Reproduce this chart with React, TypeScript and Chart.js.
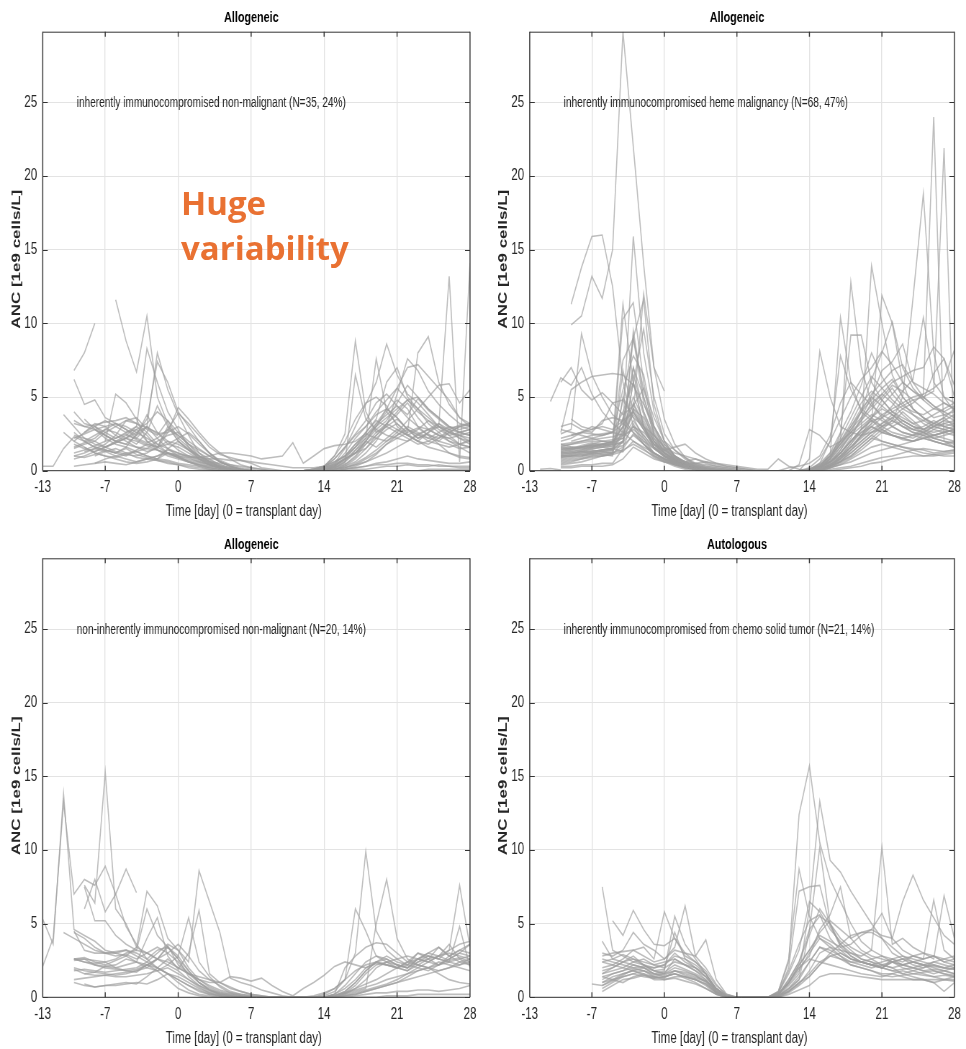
import React, { useEffect, useRef } from 'react';
import { Chart, registerables } from 'chart.js';

Chart.register(...registerables);

// ---------- axes ----------
const DAY_MIN = -13;
const DAY_MAX = 28;
const ANC_MAX = 29.8;
const X_TICKS = [-13, -7, 0, 7, 14, 21, 28];
const Y_TICKS = [0, 5, 10, 15, 20, 25];
const X_TITLE = 'Time [day] (0 = transplant day)';
const Y_TITLE = 'ANC [1e9 cells/L]';

// each series: [first day, daily ANC values from that day on]
type Series = [number, number[]];

const ALLO_INHERENT_NONMAL: Series[] = [
  [-13, [0.3, 0.3, 1.5, 2.3, 2.0, 1.6, 1.4, 1.2, 1.5, 1.1, 0.9, 0.7, 0.5, 0.4, 0.2, 0.1, 0.05, 0, 0, 0, 0, 0, 0, 0, 0, 0, 0.1, 0.2, 0.4, 0.8, 1.2, 1.5, 2.2, 2.8, 3.2, 2.6, 2.9, 2.4, 2.2, 2.8, 3.1, 3.2]],
  [-10, [6.8, 8.0, 10.0]],
  [-10, [6.2, 4.5, 4.8, 3.6, 3.2, 2.8, 2.4, 3.0, 2.2, 1.5, 1.0, 0.6, 0.3, 0.1, 0, 0, 0, 0, 0, 0, 0, 0, 0, 0.1, 0.3, 0.8, 1.6, 2.5, 3.4, 4.6, 5.2, 4.4, 3.8, 4.9, 4.1, 3.5, 2.9, 3.0, 3.1]],
  [-6, [11.6, 8.8, 6.7, 10.5, 5.0, 3.2, 2.0, 1.4, 0.8, 0.4, 0.2, 0.1, 0, 0, 0, 0, 0, 0, 0, 0.1, 0.2, 0.5, 1.0, 1.8, 2.4, 3.0, 4.2, 3.6, 2.8, 2.2, 2.6, 3.0, 2.4, 1.8, 2.1]],
  [-10, [1.8, 1.5, 1.3, 1.6, 2.0, 2.4, 2.2, 3.0, 8.0, 5.5, 3.8, 2.4, 1.2, 0.6, 0.3, 0.1, 0, 0, 0, 0, 0, 0, 0, 0, 0.2, 0.5, 1.5, 3.0, 4.5, 6.0, 8.6, 6.5, 5.2, 4.6, 3.8, 3.0, 2.6, 2.4, 2.2]],
  [-10, [3.2, 3.0, 3.1, 3.3, 3.4, 3.6, 3.2, 2.9, 2.6, 2.0, 1.4, 1.0, 0.7, 0.4, 0.2, 0.1, 0, 0, 0, 0, 0, 0, 0, 0.1, 0.3, 1.0, 2.5, 8.8, 4.0, 2.6, 3.0, 3.5, 2.8, 2.2, 2.5, 2.0, 1.8, 1.5, 1.6]],
  [-11, [3.8, 3.0, 2.2, 1.8, 1.6, 1.9, 2.2, 2.6, 3.0, 2.5, 2.6, 4.3, 3.5, 2.6, 1.8, 1.2, 0.8, 0.4, 0.2, 0.1, 0, 0, 0, 0, 0, 0.1, 0.3, 0.8, 1.2, 2.0, 2.8, 3.4, 4.6, 5.8, 5.0, 4.2, 3.6, 3.0, 2.8, 3.0]],
  [-10, [2.6, 2.0, 1.6, 1.4, 1.2, 1.6, 2.5, 3.5, 7.4, 6.0, 4.0, 3.0, 2.0, 1.2, 0.6, 0.3, 0.1, 0, 0, 0, 0, 0, 0, 0, 0.1, 0.3, 0.7, 1.4, 2.2, 7.6, 4.0, 3.2, 2.5, 2.0, 1.8, 2.2, 2.6, 2.4, 2.0]],
  [-10, [1.2, 1.4, 1.7, 2.0, 2.2, 2.5, 2.1, 1.8, 1.6, 2.8, 3.9, 3.2, 2.4, 1.6, 1.1, 0.9, 0.7, 0.5, 0.2, 0.1, 0, 0, 0, 0, 0.1, 0.2, 0.6, 1.2, 1.8, 2.4, 3.0, 5.2, 7.6, 6.8, 5.4, 4.5, 3.8, 3.2, 3.0]],
  [-9, [1.6, 1.2, 1.0, 0.9, 1.1, 1.3, 1.0, 0.8, 1.2, 1.0, 0.8, 0.6, 0.4, 0.2, 0.1, 0, 0, 0, 0, 0, 0, 0, 0, 0, 0.1, 0.2, 0.4, 0.8, 1.2, 1.8, 2.2, 2.6, 8.0, 9.1, 6.0, 4.5, 3.6, 3.2]],
  [-8, [1.0, 1.3, 1.5, 1.2, 0.9, 0.8, 1.0, 1.4, 1.2, 0.9, 0.6, 0.4, 0.2, 0.1, 0, 0, 0, 0, 0, 0, 0, 0, 0, 0.1, 0.2, 0.4, 0.6, 0.9, 1.2, 1.6, 2.0, 2.4, 2.8, 3.0, 13.2, 0.6, 14.1]],
  [-10, [2.2, 2.5, 2.8, 3.0, 3.2, 3.0, 2.6, 2.2, 1.8, 1.5, 1.2, 1.0, 0.8, 0.6, 0.5, 0.4, 0.3, 0.2, 0.1, 0, 0, 0, 0, 0, 0, 0.2, 0.5, 6.5, 3.5, 2.8, 2.4, 2.2, 2.0, 2.5, 2.8, 2.4, 2.0, 1.6, 1.2]],
  [-8, [2.8, 2.4, 2.0, 1.8, 1.6, 1.5, 1.4, 1.2, 1.0, 0.9, 0.9, 1.0, 1.2, 1.2, 1.1, 1.0, 0.8, 0.9, 1.0, 1.9, 0.5, 1.0, 1.5, 1.7, 1.8, 2.0, 2.5, 2.2, 2.0, 2.4, 2.8, 2.5, 2.0, 1.8, 1.6, 1.8, 2.0]],
  [-10, [1.0, 1.2, 1.5, 1.3, 1.0, 0.8, 0.6, 0.8, 1.0, 1.2, 0.9, 0.6, 0.4, 0.3, 0.2, 0.1, 0, 0, 0, 0, 0, 0, 0, 0, 0, 0, 0.1, 0.2, 0.3, 0.5, 0.6, 0.8, 1.0, 0.8, 0.7, 0.6, 0.5, 0.5, 0.6]],
  [-10, [2.0, 2.6, 3.2, 3.0, 2.4, 2.0, 1.6, 1.3, 1.5, 2.6, 3.0, 2.5, 1.8, 1.2, 0.7, 0.4, 0.2, 0.1, 0, 0, 0, 0, 0, 0, 0.2, 0.8, 1.6, 2.4, 3.0, 4.0, 4.8, 5.6, 7.0, 7.2, 6.4, 5.6, 4.8, 3.6, 3.0]],
  [-9, [3.5, 2.8, 2.2, 1.8, 1.6, 1.3, 1.5, 2.0, 2.4, 2.6, 2.0, 1.5, 1.0, 0.6, 0.3, 0.1, 0, 0, 0, 0, 0, 0, 0, 0, 0.1, 0.3, 0.8, 1.5, 2.4, 3.2, 2.8, 2.4, 2.0, 2.6, 3.2, 2.8, 2.2, 1.8]],
  [-7, [2.0, 5.2, 4.6, 3.5, 2.0, 1.4, 1.0, 0.8, 0.6, 0.4, 0.2, 0.1, 0, 0, 0, 0, 0, 0, 0, 0, 0.1, 0.3, 0.6, 1.0, 1.6, 2.2, 3.0, 3.6, 4.2, 4.8, 5.0, 4.2, 3.6, 3.0, 2.6, 2.4]],
  [-9, [1.3, 1.5, 1.8, 2.4, 3.4, 3.2, 2.6, 1.8, 1.2, 0.9, 0.6, 0.4, 0.2, 0.1, 0, 0, 0, 0, 0, 0, 0, 0, 0, 0, 0, 0, 0.1, 0.1, 0.2, 0.3, 0.3, 0.4, 0.3, 0.3, 0.4, 0.3, 0.3, 0.3]],
  [-10, [1.5, 1.8, 2.0, 2.6, 3.0, 3.4, 3.6, 2.8, 2.4, 3.4, 2.2, 1.6, 1.0, 0.6, 0.3, 0.2, 0.1, 0, 0, 0, 0, 0, 0, 0.1, 0.2, 0.4, 0.8, 1.2, 2.0, 3.0, 4.0, 4.8, 4.2, 3.0, 2.4, 1.8, 1.2, 0.9, 0.8]],
  [-5, [2.4, 3.0, 8.3, 6.0, 4.0, 2.8, 1.6, 0.8, 0.4, 0.2, 0.1, 0, 0, 0, 0, 0, 0, 0, 0, 0, 0.1, 0.2, 0.5, 0.9, 1.4, 2.0, 2.6, 3.4, 4.2, 5.0, 5.8, 5.9, 4.6, 5.5]],
  [-11, [2.6, 2.0, 1.6, 1.2, 1.0, 0.8, 0.6, 0.5, 0.6, 0.8, 0.7, 0.5, 0.4, 0.3, 0.2, 0.1, 0, 0, 0, 0, 0, 0, 0, 0, 0, 0, 0, 0.1, 0.2, 0.3, 0.4, 0.4, 0.5, 0.5, 0.4, 0.4, 0.3, 0.3, 0.2, 0.2]],
  [-8, [0.5, 0.8, 1.0, 1.2, 1.3, 1.0, 0.8, 1.5, 2.0, 1.5, 1.0, 0.6, 0.3, 0.1, 0, 0, 0, 0, 0, 0, 0, 0, 0, 0.1, 0.4, 1.0, 2.0, 3.2, 4.2, 5.6, 4.8, 4.0, 3.4, 2.8, 2.4, 2.6, 2.8]],
  [-10, [2.4, 2.2, 2.0, 1.6, 1.3, 1.1, 1.0, 1.2, 1.6, 2.0, 1.8, 1.4, 1.0, 0.7, 0.4, 0.2, 0.1, 0, 0, 0, 0, 0, 0, 0, 0, 0, 0.1, 0.3, 0.6, 1.1, 1.8, 2.4, 3.0, 2.6, 2.2, 2.0, 2.6, 3.0, 2.8]],
  [-10, [1.0, 0.9, 1.1, 1.4, 1.2, 1.0, 1.4, 1.8, 1.6, 1.2, 1.1, 1.0, 0.9, 0.8, 0.8, 0.7, 0.7, 0.6, 0.5, 0.4, 0.3, 0.2, 0.2, 0.2, 0.3, 0.6, 1.0, 1.8, 2.6, 3.5, 6.0, 7.0, 5.0, 4.2, 3.2, 2.6, 2.0, 1.8, 1.6]],
  [-10, [0.3, 0.4, 0.5, 0.6, 0.5, 0.4, 0.6, 0.8, 0.7, 0.6, 0.4, 0.3, 0.2, 0.1, 0, 0, 0, 0, 0, 0, 0, 0, 0, 0, 0, 0, 0, 0, 0, 0, 0, 0, 0, 0, 0.1, 0.1, 0.1, 0.1, 0.1]],
  [-10, [4.0, 3.2, 3.0, 2.6, 2.2, 2.6, 3.0, 2.4, 1.6, 3.0, 2.4, 1.8, 1.4, 1.0, 0.6, 0.3, 0.1, 0, 0, 0, 0, 0, 0, 0, 0.3, 1.0, 2.0, 3.5, 4.6, 5.0, 4.4, 3.0, 2.4, 2.8, 3.4, 3.0, 2.6, 3.0, 3.2]],
  [-9, [2.0, 2.4, 2.8, 2.6, 2.2, 1.8, 2.6, 4.4, 3.0, 2.0, 1.4, 0.9, 0.5, 0.3, 0.1, 0, 0, 0, 0, 0, 0, 0, 0, 0.1, 0.2, 0.4, 0.9, 1.8, 2.6, 3.2, 3.8, 4.6, 3.6, 2.8, 2.4, 2.2, 2.4, 2.6]],
  [-10, [3.4, 3.0, 2.8, 2.4, 2.0, 2.2, 2.8, 2.0, 1.6, 1.8, 2.2, 2.6, 2.0, 1.2, 0.6, 0.3, 0.1, 0, 0, 0, 0, 0, 0, 0, 0, 0.3, 0.9, 1.6, 2.4, 3.2, 3.8, 4.4, 3.6, 3.0, 2.8, 3.2, 2.6, 2.2, 2.0]],
  [-10, [1.6, 1.9, 2.2, 2.8, 3.2, 2.8, 2.2, 1.9, 2.2, 2.8, 2.4, 1.8, 1.2, 0.8, 0.4, 0.2, 0.1, 0, 0, 0, 0, 0, 0, 0, 0.1, 0.4, 1.2, 2.2, 3.0, 3.8, 4.2, 3.6, 2.8, 2.4, 2.2, 2.6, 3.0, 2.6, 2.4]],
  [-9, [2.6, 3.0, 2.4, 2.0, 1.8, 2.4, 3.8, 2.6, 1.8, 1.6, 1.2, 0.8, 0.5, 0.3, 0.1, 0, 0, 0, 0, 0, 0, 0, 0, 0, 0.2, 0.6, 1.4, 2.0, 1.6, 2.2, 2.8, 2.4, 2.0, 1.6, 1.4, 1.2, 1.0, 0.9]],
  [-10, [0.8, 1.0, 1.3, 1.6, 1.9, 2.2, 2.0, 1.7, 1.4, 1.1, 0.9, 0.7, 0.5, 0.3, 0.2, 0.1, 0, 0, 0, 0, 0, 0, 0, 0, 0, 0.1, 0.3, 0.6, 1.2, 2.0, 3.2, 4.0, 4.8, 4.2, 3.6, 3.0, 2.8, 2.6, 2.8]],
  [-8, [3.0, 3.4, 3.0, 2.6, 2.8, 3.2, 4.0, 3.4, 2.6, 1.8, 1.0, 0.5, 0.2, 0.1, 0, 0, 0, 0, 0, 0, 0, 0, 0.1, 0.3, 0.8, 1.6, 2.6, 3.4, 3.0, 2.6, 2.2, 1.8, 2.0, 2.4, 2.2, 1.8, 1.6]],
];

const ALLO_HEME: Series[] = [
  [-12, [0.1, 0.15, 0.05]],
  [-11, [4.7, 6.3, 5.8, 7.0, 5.2, 4.0, 3.2, 2.6, 2.0, 1.6, 1.2, 0.8, 0.5, 0.3, 0.1, 0, 0, 0, 0, 0, 0, 0, 0, 0, 0, 0.1, 0.4, 1.0, 1.8, 2.6, 3.4, 4.2, 5.0, 5.8, 5.4, 4.8, 4.2, 3.6, 3.8, 4.0]],
  [-9, [11.3, 13.8, 15.9, 16.0, 12.5, 6.0, 3.0, 1.8, 1.0, 0.6, 0.3, 0.1, 0, 0, 0, 0, 0, 0, 0, 0, 0, 0, 0, 0.1, 0.5, 1.2, 2.0, 3.0, 4.2, 5.0, 4.4, 3.8, 3.2, 2.8, 3.0, 3.4, 3.0, 2.8]],
  [-9, [9.9, 10.5, 13.2, 11.7, 15.0, 29.8, 22.0, 14.0, 7.0, 3.5, 1.8, 0.9, 0.4, 0.2, 0.1, 0, 0, 0, 0, 0, 0, 0, 0, 0.2, 0.8, 2.0, 3.5, 5.0, 6.2, 7.0, 8.1, 7.2, 6.0, 5.4, 5.0, 4.4, 4.0, 3.6]],
  [-10, [2.5, 2.8, 9.3, 6.5, 5.0, 3.8, 3.2, 2.6, 2.0, 1.5, 1.0, 0.6, 0.3, 0.1, 0, 0, 0, 0, 0, 0, 0, 0, 0, 0, 0.1, 0.3, 0.8, 1.6, 2.4, 3.0, 3.6, 4.2, 3.8, 3.2, 2.8, 2.6, 2.4, 2.6, 2.8]],
  [-10, [2.6, 5.5, 6.0, 6.4, 6.5, 6.6, 6.5, 5.8, 4.5, 3.0, 1.8, 1.0, 0.5, 0.2, 0.1, 0, 0, 0, 0, 0, 0, 0, 0, 0, 0.1, 0.3, 0.6, 1.0, 1.6, 2.2, 2.8, 3.2, 3.6, 3.0, 2.6, 2.4, 2.2, 2.4, 2.6]],
  [-10, [6.0, 7.0, 5.5, 4.8, 5.3, 4.6, 4.8, 3.6, 3.0, 2.4, 1.6, 0.9, 0.5, 0.2, 0.1, 0, 0, 0, 0, 0, 0, 0, 0, 0, 0, 0.2, 0.6, 1.2, 2.0, 2.8, 3.4, 2.8, 2.4, 2.2, 2.0, 2.4, 2.8, 3.2, 3.0]],
  [-10, [1.2, 1.3, 1.4, 1.5, 1.6, 1.8, 3.0, 15.9, 8.0, 4.0, 2.0, 1.0, 0.5, 0.2, 0.1, 0, 0, 0, 0, 0, 0, 0, 0, 0, 0.1, 0.3, 0.9, 1.8, 2.8, 3.6, 4.4, 5.2, 4.6, 3.8, 3.2, 2.8, 2.6, 2.8, 3.0]],
  [-10, [1.0, 1.1, 1.3, 1.5, 1.6, 1.7, 2.0, 4.0, 12.0, 7.0, 5.4]],
  [-10, [1.4, 1.5, 1.6, 1.8, 1.7, 1.9, 11.3, 6.0, 3.0, 1.8, 1.0, 0.5, 0.3, 0.1, 0, 0, 0, 0, 0, 0, 0, 0, 0, 0, 0, 0.2, 0.8, 2.5, 9.2, 9.2, 6.0, 4.8, 4.0, 3.4, 3.0, 2.8, 3.0, 3.4, 3.8]],
  [-10, [1.6, 1.5, 1.7, 1.9, 1.8, 1.6, 10.3, 11.4, 6.0, 2.5, 1.2, 0.6, 0.3, 0.1, 0, 0, 0, 0, 0, 0, 0, 0, 0, 0, 0, 0.3, 1.0, 10.4, 6.0, 4.0, 3.4, 3.0, 2.6, 2.4, 2.2, 2.6, 3.0, 2.8, 2.6]],
  [-8, [1.0, 1.2, 1.4, 1.5, 1.3, 9.5, 5.0, 2.4, 1.3, 0.7, 0.3, 0.1, 0, 0, 0, 0, 0, 0, 0, 0, 0, 0, 0, 0.1, 0.4, 1.0, 1.8, 2.8, 13.9, 10.0, 6.5, 5.0, 4.2, 3.6, 3.2, 3.0, 3.2]],
  [-10, [1.3, 1.4, 1.6, 1.8, 2.0, 1.9, 7.5, 9.0, 11.6, 4.5, 2.0, 1.0, 0.5, 0.2, 0.1, 0, 0, 0, 0, 0, 0, 0, 0, 0, 0, 0.2, 0.8, 2.0, 12.8, 7.0, 4.6, 3.6, 3.0, 2.6, 2.4, 2.2, 2.4, 2.6, 2.8]],
  [-10, [1.0, 1.0, 1.1, 1.2, 1.3, 1.2, 6.8, 4.0, 2.8, 1.6, 1.0, 0.5, 0.3, 0.1, 0, 0, 0, 0, 0, 0, 0, 0, 0, 0, 0, 0, 0.3, 0.8, 1.6, 2.4, 3.2, 11.9, 10.0, 6.0, 4.2, 3.6, 3.0, 2.8, 2.6]],
  [-10, [0.8, 0.9, 1.0, 1.1, 1.2, 1.3, 4.8, 9.0, 5.5, 3.0, 1.8, 1.0, 0.6, 0.3, 0.1, 0, 0, 0, 0, 0, 0, 0, 0, 0, 0, 0.1, 0.3, 0.6, 1.0, 1.6, 2.2, 2.8, 3.4, 5.0, 11.7, 18.8, 8.0, 5.0, 4.0]],
  [-10, [1.5, 1.5, 1.6, 1.7, 1.8, 1.8, 3.5, 6.5, 4.0, 2.2, 1.2, 0.7, 0.3, 0.1, 0, 0, 0, 0, 0, 0, 0, 0, 0, 0, 0, 0.1, 0.4, 1.0, 1.8, 2.6, 3.2, 3.8, 4.2, 4.6, 5.0, 5.2, 24.0, 2.0, 1.6]],
  [-10, [1.1, 1.2, 1.3, 1.4, 1.3, 1.4, 2.8, 5.0, 3.4, 2.0, 1.1, 0.6, 0.3, 0.1, 0, 0, 0, 0, 0, 0, 0, 0, 0, 0, 0, 0.1, 0.5, 1.2, 2.0, 2.8, 3.4, 3.6, 4.0, 4.4, 4.8, 5.0, 5.4, 21.9, 1.0]],
  [-10, [0.5, 0.6, 0.8, 1.0, 1.1, 1.0, 5.0, 3.6, 2.2, 1.2, 0.8, 0.4, 0.2, 0.1, 0, 0, 0, 0, 0, 0, 0, 0, 0, 0, 0.8, 8.1, 5.0, 3.0, 2.6, 2.4, 2.6, 2.8, 2.4, 2.2, 2.0, 2.2, 2.0, 1.8, 1.6]],
  [-10, [0.3, 0.3, 0.4, 0.4, 0.5, 0.5, 1.5, 2.5, 1.8, 1.2, 0.8, 0.6, 0.4, 0.3, 0.2, 0.1, 0.1, 0, 0, 0, 0, 0, 0, 0.4, 2.8, 2.4, 1.6, 2.0, 2.6, 3.2, 3.8, 3.4, 3.0, 2.6, 2.4, 2.8, 3.2, 3.0, 2.8]],
  [-9, [2.0, 2.2, 2.4, 2.5, 2.6, 4.0, 6.0, 3.8, 2.0, 1.2, 0.7, 0.3, 0.1, 0, 0, 0, 0, 0, 0, 0, 0, 0, 0, 0, 0.2, 0.6, 1.4, 2.6, 4.0, 6.2, 8.0, 10.1, 7.0, 5.6, 4.8, 4.2, 4.0, 4.4]],
  [-10, [1.7, 1.8, 1.9, 2.0, 2.0, 1.9, 3.0, 4.5, 3.0, 1.8, 1.0, 0.6, 0.3, 0.1, 0, 0, 0, 0, 0, 0, 0, 0, 0, 0, 0, 0.1, 0.3, 0.9, 1.6, 2.4, 3.0, 3.6, 4.4, 5.4, 6.2, 10.4, 6.0, 5.0, 4.6]],
  [-10, [2.0, 2.2, 2.6, 3.0, 2.8, 2.6, 2.4, 4.2, 3.0, 1.8, 1.2, 0.8, 0.4, 0.2, 0.1, 0, 0, 0, 0, 0, 0, 0, 0, 0, 0, 0.2, 0.6, 1.4, 2.4, 3.4, 4.6, 5.2, 6.0, 6.4, 6.8, 7.0, 8.4, 7.6, 5.8]],
  [-10, [1.0, 1.0, 1.1, 1.2, 1.1, 1.2, 3.6, 2.6, 1.8, 1.1, 0.7, 0.4, 0.2, 0.1, 0, 0, 0, 0, 0, 0, 0, 0, 0, 0, 0, 0.1, 0.3, 0.6, 1.2, 1.8, 2.4, 3.0, 3.6, 4.2, 4.6, 5.2, 5.6, 6.2, 8.2]],
  [-10, [2.8, 2.6, 2.4, 2.2, 2.0, 2.1, 2.2, 3.0, 2.4, 1.6, 1.0, 0.6, 0.4, 0.2, 0.1, 0, 0, 0, 0, 0, 0, 0, 0, 0, 0, 0.5, 2.0, 7.8, 5.5, 4.2, 3.6, 3.0, 3.2, 4.0, 3.4, 2.8, 2.4, 2.6, 2.8]],
  [-10, [0.9, 1.0, 1.2, 1.3, 1.4, 1.5, 2.0, 6.0, 3.0, 1.6, 1.0, 0.8, 0.6, 0.5, 0.4, 0.3, 0.2, 0.1, 0, 0, 0, 0, 0, 0, 0, 0.1, 0.3, 0.7, 1.2, 1.8, 2.4, 2.0, 1.8, 1.6, 1.5, 1.4, 1.2, 1.3, 1.4]],
  [-10, [1.2, 1.3, 1.4, 1.6, 1.8, 2.0, 3.0, 7.0, 4.0, 2.4, 1.6, 1.2, 1.0, 0.8, 0.6, 0.4, 0.3, 0.2, 0.1, 0, 0, 0, 0, 0, 0, 0, 0.2, 0.5, 0.9, 1.4, 2.0, 2.6, 3.0, 3.4, 3.0, 2.6, 2.2, 2.0, 1.8]],
  [-10, [0.4, 0.5, 0.6, 0.8, 1.0, 1.2, 1.6, 3.2, 2.0, 1.2, 0.8, 0.5, 0.3, 0.2, 0.1, 0, 0, 0, 0, 0, 0, 0, 0, 0, 0, 0, 0.2, 0.4, 0.8, 1.2, 1.6, 1.8, 1.6, 1.4, 1.2, 1.0, 1.0, 1.1, 1.2]],
  [-10, [3.0, 3.2, 2.8, 2.6, 3.4, 3.6, 3.4, 4.0, 3.0, 2.0, 1.4, 0.9, 0.5, 0.3, 0.1, 0, 0, 0, 0, 0, 0, 0, 0, 0, 0, 0.1, 0.5, 1.2, 2.2, 3.6, 5.0, 6.8, 7.4, 8.6, 6.0, 5.0, 4.4, 3.8, 3.4]],
  [-10, [1.8, 1.9, 2.0, 2.1, 2.2, 2.3, 2.5, 9.0, 4.6, 2.6, 1.5, 0.9, 0.6, 0.4, 0.3, 0.2, 0.1, 0, 0, 0, 0, 0, 0, 0, 0, 0.2, 0.8, 1.8, 3.0, 4.0, 4.8, 5.6, 6.2, 5.0, 4.2, 3.6, 3.2, 3.6, 4.2]],
  [-10, [0.2, 0.2, 0.3, 0.3, 0.3, 0.4, 0.8, 1.6, 1.2, 0.8, 0.6, 0.4, 0.3, 0.2, 0.1, 0, 0, 0, 0, 0, 0, 0, 0, 0, 0, 0, 0, 0.1, 0.2, 0.3, 0.5, 0.6, 0.8, 0.9, 1.0, 1.0, 1.1, 1.0, 1.0]],
  [-9, [3.5, 3.0, 2.8, 3.2, 4.6, 3.8, 4.4, 5.6, 3.6, 2.0, 1.4, 0.9, 0.5, 0.3, 0.2, 0.1, 0, 0, 0, 0, 0, 0, 0, 0, 0.2, 0.6, 1.2, 2.0, 2.8, 3.6, 4.4, 5.2, 6.0, 5.4, 4.8, 6.6, 7.6, 5.0]],
  [-10, [1.3, 1.4, 1.5, 1.6, 1.7, 1.8, 1.9, 3.0, 2.6, 1.8, 1.4, 1.6, 1.8, 1.2, 0.8, 0.5, 0.3, 0.2, 0.1, 0, 0, 0, 0, 0, 0, 0.1, 0.3, 0.8, 1.4, 2.0, 2.6, 3.0, 3.4, 3.0, 2.6, 2.4, 2.0, 1.8, 1.6]],
  [-10, [2.2, 2.4, 2.6, 2.5, 2.4, 2.6, 3.2, 4.0, 2.8, 1.8, 1.2, 0.8, 0.6, 0.8, 0.5, 0.3, 0.2, 0.1, 0, 0, 0, 0, 0.2, 0.3, 0.5, 1.0, 2.4, 4.6, 6.0, 5.2, 4.4, 3.8, 3.4, 3.0, 2.8, 2.6, 3.0, 3.4, 3.2]],
  [-10, [0.7, 0.8, 0.9, 1.0, 1.0, 1.1, 1.3, 2.0, 1.5, 0.9, 0.6, 0.5, 0.4, 0.5, 0.6, 0.5, 0.4, 0.3, 0.2, 0.1, 0.1, 0.8, 0.3, 0.1, 0, 0.1, 0.3, 0.6, 1.0, 1.6, 2.2, 2.0, 1.8, 1.6, 1.4, 1.2, 1.1, 1.2, 1.3]],
  [-10, [1.6, 1.8, 2.0, 2.2, 2.4, 2.6, 5.5, 7.8, 6.5, 3.0, 1.5, 0.8, 0.4, 0.2, 0.1, 0, 0, 0, 0, 0, 0, 0, 0, 0, 0, 0.3, 1.2, 2.6, 4.0, 5.8, 8.0, 6.4, 5.2, 4.4, 4.0, 3.8, 4.2, 4.6, 4.2]],
  [-10, [1.4, 1.5, 1.6, 1.7, 1.6, 1.5, 2.4, 2.8, 2.2, 1.5, 1.0, 0.6, 0.3, 0.1, 0, 0, 0, 0, 0, 0, 0, 0, 0, 0, 0, 0, 0.1, 0.2, 0.3, 0.5, 0.7, 0.9, 1.0, 1.2, 1.4, 1.5, 1.4, 1.3, 1.4]],
  [-10, [0.6, 0.7, 0.8, 0.9, 1.0, 1.1, 2.0, 6.0, 9.6, 5.0, 2.5, 1.4, 0.8, 0.4, 0.2, 0.1, 0, 0, 0, 0, 0, 0, 0, 0, 0, 0.2, 0.7, 1.6, 2.8, 4.0, 5.2, 6.0, 6.8, 7.2, 6.0, 5.6, 5.2, 4.6, 4.2]],
  [-10, [1.2, 1.2, 1.3, 1.3, 1.4, 1.5, 2.6, 3.8, 2.8, 1.6, 0.9, 0.5, 0.2, 0.1, 0, 0, 0, 0, 0, 0, 0, 0, 0, 0, 0, 0.1, 0.4, 0.9, 1.6, 2.3, 3.0, 2.6, 2.4, 2.1, 2.0, 2.2, 2.4, 2.2, 2.0]],
  [-10, [1.0, 1.1, 1.2, 1.3, 1.4, 1.5, 1.7, 2.4, 1.8, 1.2, 0.8, 0.5, 0.3, 0.1, 0, 0, 0, 0, 0, 0, 0, 0, 0, 0, 0, 0.2, 0.6, 1.2, 2.0, 2.6, 3.0, 2.6, 2.4, 2.2, 2.4, 2.6, 2.2, 2.0, 1.9]],
  [-10, [1.8, 1.6, 1.5, 1.6, 1.8, 2.0, 2.4, 4.6, 3.2, 2.0, 1.2, 0.7, 0.4, 0.2, 0.1, 0, 0, 0, 0, 0, 0, 0, 0, 0, 0.1, 0.4, 1.0, 2.0, 3.2, 4.6, 5.4, 4.8, 4.0, 3.6, 3.2, 3.4, 3.8, 4.2, 4.6]],
  [-10, [0.9, 1.0, 1.0, 1.1, 1.2, 1.2, 1.4, 1.8, 1.4, 1.0, 0.7, 0.4, 0.2, 0.1, 0, 0, 0, 0, 0, 0, 0, 0, 0, 0, 0, 0.1, 0.2, 0.4, 0.6, 0.9, 1.2, 1.4, 1.6, 1.8, 2.0, 2.2, 2.0, 1.8, 2.0]],
  [-9, [2.4, 2.6, 2.8, 3.0, 2.8, 3.4, 7.0, 5.0, 2.8, 1.6, 1.0, 0.6, 0.3, 0.1, 0, 0, 0, 0, 0, 0, 0, 0, 0, 0, 0.3, 1.0, 2.2, 3.6, 5.0, 6.4, 5.6, 4.8, 4.2, 3.8, 3.4, 3.0, 3.2, 3.4]],
  [-10, [1.5, 1.6, 1.6, 1.7, 1.8, 1.9, 2.2, 3.4, 2.4, 1.5, 1.0, 0.7, 0.5, 0.3, 0.2, 0.1, 0, 0, 0, 0, 0, 0, 0, 0, 0, 0.1, 0.4, 0.8, 1.4, 2.0, 2.6, 3.2, 3.8, 3.4, 3.0, 2.8, 3.2, 3.6, 3.0]],
  [-10, [1.1, 1.2, 1.3, 1.2, 1.3, 1.4, 2.0, 4.2, 3.6, 2.2, 1.4, 0.8, 0.4, 0.2, 0.1, 0, 0, 0, 0, 0, 0, 0, 0, 0, 0, 0, 0.2, 0.6, 1.4, 2.4, 3.6, 4.8, 5.6, 4.6, 3.8, 3.2, 2.8, 2.6, 2.4]],
];

const ALLO_NONINHERENT: Series[] = [
  [-13, [5.3, 3.6, 13.8, 4.6, 4.2, 3.8, 3.2, 3.0, 2.8, 2.4, 2.2, 1.8, 1.2, 0.6, 0.3, 0.1, 0, 0, 0, 0, 0, 0, 0, 0, 0, 0, 0.1, 0.3, 0.6, 1.2, 1.8, 2.2, 2.4, 2.2, 2.0, 2.4, 2.6, 2.8, 2.6, 2.4, 2.6, 2.8]],
  [-13, [2.1, 4.0, 13.2, 7.0, 8.0, 7.6, 8.9, 7.0, 4.8, 3.6, 2.6, 2.0, 1.6, 1.0, 0.5, 0.2, 0.1, 0, 0, 0, 0, 0, 0, 0, 0, 0, 0, 0, 0.2, 0.8, 1.6, 2.4, 2.8, 2.6, 2.2, 2.0, 2.4, 2.8, 2.6, 2.4, 2.2, 2.6]],
  [-9, [7.6, 6.4, 15.3, 6.0, 5.0, 3.4, 3.0, 2.6, 2.2, 1.8, 1.2, 0.7, 0.3, 0.1, 0, 0, 0, 0, 0, 0, 0, 0, 0, 0.1, 0.4, 1.2, 3.0, 9.9, 4.5, 3.2, 2.6, 2.2, 2.0, 1.8, 2.2, 2.8, 3.2, 3.0]],
  [-9, [6.0, 8.0, 5.8, 7.0, 8.7, 7.1]],
  [-9, [7.5, 5.2, 5.2, 4.2, 3.6, 3.2, 6.0, 4.2, 3.4, 2.6, 1.8, 1.0, 0.5, 0.2, 0.1, 0, 0, 0, 0, 0, 0, 0, 0, 0, 0.1, 0.4, 1.0, 1.8, 2.4, 2.2, 2.0, 1.8, 2.2, 2.6, 3.4, 2.8, 2.4, 2.6]],
  [-10, [4.4, 4.0, 3.4, 3.0, 3.0, 3.2, 3.0, 2.6, 3.2, 3.4, 2.8, 5.4, 2.4, 1.4, 0.7, 0.3, 0.1, 0, 0, 0, 0, 0, 0, 0, 0, 0, 0.3, 0.8, 1.6, 2.2, 2.4, 2.6, 2.8, 2.6, 2.4, 2.8, 3.0, 2.8, 2.6]],
  [-10, [2.6, 2.7, 2.4, 2.2, 2.5, 2.8, 3.4, 7.2, 6.2, 4.0, 3.2, 2.4, 8.6, 6.5, 4.4, 1.3, 1.0, 0.8, 0.5, 0.3, 0.1, 0, 0, 0, 0, 0, 0.2, 0.6, 1.2, 2.0, 2.4, 2.2, 2.0, 2.6, 3.0, 2.8, 3.6, 2.6, 2.2]],
  [-10, [2.5, 2.6, 2.2, 2.1, 2.0, 2.2, 2.4, 4.0, 5.4, 2.8, 1.9, 3.0, 5.9, 1.6, 1.0, 0.6, 0.4, 0.2, 0.1, 0, 0, 0, 0, 0, 0.2, 0.6, 1.2, 6.0, 4.5, 2.8, 2.4, 2.0, 2.2, 2.6, 2.4, 2.2, 2.6, 3.0, 2.8]],
  [-10, [1.9, 1.6, 1.5, 1.5, 1.6, 1.7, 1.8, 2.0, 2.6, 3.5, 2.2, 1.6, 1.2, 0.8, 0.5, 0.3, 0.2, 0.1, 0, 0, 0, 0, 0, 0, 0, 0.1, 0.3, 0.6, 0.9, 1.2, 1.6, 2.0, 2.4, 3.0, 2.6, 2.2, 2.4, 4.8, 2.0]],
  [-10, [1.0, 0.8, 0.7, 0.8, 0.9, 1.0, 0.9, 1.4, 2.0, 2.6, 2.0, 1.6, 1.2, 1.0, 1.0, 1.4, 1.3, 1.1, 1.3, 0.8, 0.4, 0.1, 0.6, 1.0, 1.5, 2.1, 2.4, 2.2, 2.0, 2.3, 2.2, 2.0, 1.8, 2.4, 2.6, 2.8, 2.5, 2.7, 2.4]],
  [-10, [2.6, 2.4, 2.3, 2.4, 2.0, 1.8, 1.9, 2.2, 2.0, 1.6, 1.2, 0.8, 0.4, 0.2, 0.1, 0, 0, 0, 0, 0, 0, 0, 0, 0, 0, 0, 0.1, 0.2, 0.4, 0.6, 0.8, 1.0, 1.4, 1.8, 2.0, 2.2, 2.6, 3.0, 3.6]],
  [-10, [2.0, 1.8, 1.7, 1.6, 1.5, 1.6, 1.8, 2.2, 2.6, 3.4, 2.6, 1.4, 0.8, 0.4, 0.2, 0.1, 0, 0, 0, 0, 0, 0, 0, 0, 0, 0.2, 2.0, 2.8, 3.4, 3.7, 3.6, 3.0, 2.4, 2.2, 2.0, 2.4, 2.2, 2.0, 1.8]],
  [-11, [4.4, 4.0, 3.6, 3.2, 3.0, 3.1, 3.2, 2.8, 2.4, 2.0, 1.6, 1.2, 0.8, 0.5, 0.2, 0.1, 0, 0, 0, 0, 0, 0, 0, 0, 0, 0, 0, 0.2, 0.4, 0.6, 5.0, 8.0, 4.0, 2.6, 2.2, 2.0, 1.8, 2.0, 2.4, 2.2]],
  [-9, [0.9, 0.7, 0.8, 0.8, 0.9, 1.0, 0.9, 1.2, 1.6, 1.4, 1.0, 0.6, 0.3, 0.1, 0, 0, 0, 0, 0, 0, 0, 0, 0, 0, 0, 0, 0.1, 0.2, 0.3, 0.3, 0.4, 0.4, 0.5, 0.5, 0.4, 0.5, 0.6, 0.8]],
  [-10, [1.8, 1.9, 1.8, 1.7, 1.8, 1.9, 2.0, 2.4, 3.0, 3.6, 3.2, 2.0, 1.2, 0.7, 0.4, 0.2, 0.1, 0, 0, 0, 0, 0, 0, 0, 0, 0.1, 0.4, 1.0, 1.8, 2.4, 2.8, 2.4, 2.2, 3.0, 2.8, 2.6, 3.2, 7.6, 3.4]],
  [-9, [1.6, 1.7, 2.1, 2.2, 2.6, 2.4, 2.0, 1.8, 2.2, 2.8, 1.8, 1.0, 0.5, 0.2, 0.1, 0, 0, 0, 0, 0, 0, 0, 0, 0, 0, 0.1, 0.2, 0.4, 0.6, 0.8, 1.0, 1.2, 1.4, 1.6, 1.8, 2.0, 2.2, 2.4]],
  [-10, [2.6, 2.4, 2.2, 2.0, 1.9, 1.8, 1.7, 2.2, 2.6, 3.0, 3.6, 2.8, 1.8, 1.2, 0.8, 0.4, 0.2, 0.1, 0, 0, 0, 0, 0, 0, 0, 0.1, 0.3, 0.5, 0.7, 0.9, 1.2, 1.4, 1.6, 1.8, 2.0, 1.6, 1.2, 1.0, 0.9]],
  [-10, [4.5, 3.2, 3.0, 3.0, 2.8, 2.9, 2.6, 3.0, 3.4, 3.0, 2.4, 1.6, 1.0, 0.6, 0.3, 0.1, 0, 0, 0, 0, 0, 0, 0, 0, 0, 0, 0.1, 0.3, 0.5, 0.7, 0.9, 1.2, 1.6, 2.0, 2.4, 2.8, 3.2, 3.6, 3.8]],
  [-10, [1.2, 1.3, 1.4, 1.5, 1.4, 1.4, 1.5, 1.6, 1.8, 2.0, 1.6, 1.2, 0.8, 0.5, 0.3, 0.2, 0.1, 0, 0, 0, 0, 0, 0, 0, 0, 0, 0, 0, 0, 0, 0.1, 0.1, 0.1, 0.2, 0.2, 0.2, 0.2, 0.2, 0.2]],
  [-10, [2.6, 2.6, 2.5, 2.4, 2.6, 3.0, 3.2, 3.0, 2.6, 2.4, 2.0, 1.6, 1.4, 1.2, 1.0, 0.7, 0.4, 0.2, 0.1, 0, 0, 0, 0, 0, 0, 0.2, 0.6, 1.2, 2.0, 2.4, 2.6, 2.2, 2.0, 2.6, 3.0, 3.4, 2.8, 3.2, 3.6]],
];

const AUTO_SOLID: Series[] = [
  [-7, [0.9, 0.8, 1.2, 1.6, 1.8, 1.5, 1.3, 1.4, 1.6, 1.3, 1.0, 0.6, 0.2, 0, 0, 0, 0, 0, 0.2, 1.0, 2.0, 2.6, 2.4, 2.2, 2.0, 1.8, 1.6, 1.5, 1.4, 1.6, 1.8, 1.6, 1.5, 1.4, 1.2, 1.1]],
  [-6, [7.5, 3.2, 2.8, 2.4, 2.6, 2.2, 2.0, 2.4, 2.2, 1.8, 1.4, 0.6, 0.1, 0, 0, 0, 0, 0.3, 1.8, 3.6, 5.2, 5.6, 4.0, 3.2, 2.6, 2.4, 2.2, 2.0, 2.6, 2.8, 2.4, 2.2, 2.0, 1.8, 1.6]],
  [-6, [3.8, 2.6, 2.4, 2.2, 2.0, 1.8, 1.6, 1.8, 1.5, 1.3, 1.1, 0.6, 0.1, 0, 0, 0, 0, 0.4, 2.6, 8.7, 5.5, 4.0, 3.4, 2.8, 2.4, 2.2, 2.0, 2.2, 2.4, 2.0, 1.8, 1.6, 1.4, 1.5, 1.4]],
  [-5, [5.2, 4.2, 5.9, 4.6, 3.6, 3.5, 4.0, 3.0, 2.4, 1.8, 0.8, 0.2, 0, 0, 0, 0, 0.2, 1.2, 2.4, 4.6, 5.5, 5.0, 3.6, 2.8, 2.4, 2.2, 2.4, 2.6, 2.2, 2.0, 1.8, 1.6, 1.8, 2.0]],
  [-6, [2.8, 3.0, 3.1, 3.2, 3.4, 2.6, 5.8, 4.0, 2.8, 2.4, 1.6, 0.6, 0.1, 0, 0, 0, 0, 0.4, 2.4, 12.4, 15.7, 10.5, 8.0, 6.5, 5.0, 3.8, 3.2, 2.8, 2.4, 2.2, 2.0, 1.8, 1.9, 1.8, 1.6]],
  [-6, [2.0, 2.2, 2.0, 1.8, 2.0, 1.6, 1.8, 5.5, 3.6, 2.6, 1.6, 0.4, 0, 0, 0, 0, 0, 0.1, 0.8, 1.6, 6.0, 13.3, 9.3, 8.5, 7.2, 6.1, 5.0, 4.0, 3.0, 2.6, 2.2, 2.0, 2.4, 2.2, 2.0]],
  [-6, [1.6, 1.8, 2.0, 2.4, 2.2, 1.8, 1.6, 2.6, 2.2, 1.8, 1.2, 0.4, 0, 0, 0, 0, 0, 0.1, 0.6, 1.2, 4.5, 10.2, 5.0, 3.4, 2.8, 2.4, 2.2, 2.0, 1.8, 1.9, 2.0, 2.2, 2.1, 2.0, 1.9]],
  [-6, [1.2, 1.6, 1.8, 2.0, 1.8, 1.4, 1.3, 1.8, 1.7, 1.5, 1.0, 0.3, 0, 0, 0, 0, 0, 0.3, 2.0, 7.2, 7.5, 7.6, 4.8, 3.6, 3.0, 2.6, 2.4, 2.2, 2.0, 2.2, 2.4, 2.2, 1.8, 1.6, 1.5]],
  [-6, [1.0, 1.4, 1.6, 1.8, 1.6, 1.2, 1.2, 1.4, 1.4, 1.2, 0.9, 0.3, 0, 0, 0, 0, 0, 0.1, 0.4, 0.9, 1.8, 3.0, 3.4, 3.2, 3.0, 2.8, 3.2, 10.2, 3.6, 4.0, 3.4, 3.0, 2.8, 2.6, 2.4]],
  [-6, [2.4, 2.2, 2.6, 3.2, 2.8, 2.4, 2.6, 3.2, 3.0, 2.8, 2.0, 0.9, 0.1, 0, 0, 0, 0, 0.2, 1.0, 2.2, 3.2, 4.4, 5.2, 4.6, 4.0, 4.4, 4.6, 4.2, 4.0, 6.5, 8.3, 6.6, 5.4, 4.2, 3.6]],
  [-6, [1.4, 1.6, 1.8, 2.2, 2.0, 1.6, 1.5, 1.8, 1.6, 1.4, 1.1, 0.4, 0, 0, 0, 0, 0, 0.1, 0.6, 1.4, 2.4, 3.4, 3.0, 2.6, 2.4, 2.4, 2.6, 2.8, 2.6, 2.4, 2.8, 3.0, 2.6, 6.9, 4.0]],
  [-6, [0.6, 1.0, 1.4, 1.6, 1.8, 1.6, 1.4, 1.6, 1.4, 1.2, 0.8, 0.2, 0, 0, 0, 0, 0, 0, 0.4, 1.0, 1.6, 2.4, 2.8, 3.0, 2.6, 2.4, 2.2, 2.0, 2.4, 2.6, 2.8, 2.6, 6.6, 3.2, 2.6]],
  [-6, [2.6, 2.4, 2.2, 2.0, 2.1, 2.0, 2.2, 2.8, 2.6, 2.2, 1.6, 0.6, 0, 0, 0, 0, 0, 0.2, 1.0, 2.0, 2.8, 4.6, 5.6, 7.5, 4.0, 3.2, 2.8, 2.6, 2.4, 2.2, 2.4, 2.6, 2.8, 2.4, 2.2]],
  [-6, [1.8, 2.0, 2.4, 2.6, 2.2, 1.8, 1.9, 4.4, 2.6, 2.0, 1.4, 0.5, 0, 0, 0, 0, 0, 0.2, 1.0, 2.2, 3.2, 4.2, 3.8, 3.4, 3.6, 4.2, 4.6, 5.7, 4.0, 3.2, 2.8, 2.6, 2.8, 2.4, 2.6]],
  [-6, [1.0, 1.2, 1.4, 1.6, 1.4, 1.3, 1.4, 1.6, 1.4, 1.2, 0.9, 0.3, 0, 0, 0, 0, 0, 0.1, 0.4, 1.0, 1.4, 2.2, 3.0, 3.6, 4.2, 4.4, 4.4, 4.0, 3.4, 2.8, 2.6, 2.4, 2.2, 2.0, 1.9]],
  [-6, [0.4, 0.8, 1.2, 1.3, 1.5, 1.4, 1.2, 1.3, 1.1, 0.9, 0.6, 0.2, 0, 0, 0, 0, 0, 0, 0.2, 0.5, 0.8, 1.4, 1.6, 1.6, 1.5, 1.4, 1.3, 1.2, 1.2, 1.2, 1.2, 1.2, 1.2, 1.2, 1.2]],
  [-6, [3.0, 2.8, 3.2, 4.4, 3.6, 3.2, 2.6, 3.4, 6.2, 2.8, 3.9, 1.2, 0.2, 0, 0, 0, 0, 0.3, 1.6, 3.2, 6.5, 5.8, 4.6, 3.8, 3.2, 2.6, 2.4, 2.0, 1.8, 1.6, 1.8, 2.0, 2.2, 2.0, 2.2]],
  [-6, [1.6, 2.0, 2.4, 2.8, 2.2, 2.0, 2.2, 3.0, 2.4, 2.0, 1.4, 0.5, 0, 0, 0, 0, 0, 0.2, 1.2, 2.4, 4.2, 6.0, 5.0, 4.0, 3.4, 3.0, 2.6, 2.2, 2.0, 1.6, 1.4, 1.2, 1.0, 0.4, 1.0]],
  [-6, [1.4, 1.2, 1.0, 1.4, 1.6, 1.4, 1.6, 2.0, 1.8, 1.5, 1.1, 0.3, 0, 0, 0, 0, 0, 0, 0.3, 0.8, 1.4, 2.2, 2.8, 2.6, 2.2, 2.0, 1.8, 1.6, 1.6, 1.4, 1.2, 1.2, 1.0, 1.2, 1.4]],
  [-6, [0.8, 1.1, 1.5, 1.9, 1.8, 1.5, 1.7, 2.2, 1.9, 1.6, 1.2, 0.4, 0, 0, 0, 0, 0, 0.1, 0.5, 1.2, 2.4, 3.4, 3.2, 2.8, 2.2, 2.0, 1.8, 1.5, 1.4, 1.5, 1.6, 1.7, 1.8, 1.6, 1.4]],
  [-6, [2.4, 2.6, 2.9, 2.6, 2.4, 2.2, 2.4, 2.6, 2.2, 2.0, 1.6, 0.6, 0, 0, 0, 0, 0, 0.2, 0.9, 1.8, 3.0, 4.0, 3.6, 3.0, 2.6, 2.4, 2.2, 2.0, 2.4, 2.6, 2.4, 2.2, 2.4, 2.6, 2.8]],
];

const PANEL_TITLES = ['Allogeneic', 'Allogeneic', 'Allogeneic', 'Autologous'];
const PANEL_NOTES = [
  'inherently immunocompromised non-malignant (N=35, 24%)',
  'inherently immunocompromised heme malignancy (N=68, 47%)',
  'non-inherently immunocompromised non-malignant (N=20, 14%)',
  'inherently immunocompromised from chemo solid tumor (N=21, 14%)',
];
const PANEL_SERIES = [ALLO_INHERENT_NONMAL, ALLO_HEME, ALLO_NONINHERENT, AUTO_SOLID];

// ---------- layout & style (CSS px) ----------
const SX = 0.72; // horizontal squeeze of the original figure
const FRAMES = [
  { x: 0, y: 0, w: 483, h: 525, l: 42.7, r: 470, t: 31.7, b: 470.7, titleY: 17.7, xTitleY: 511.7 },
  { x: 483, y: 0, w: 483, h: 525, l: 46.7, r: 473.3, t: 31.7, b: 470.7, titleY: 17.7, xTitleY: 511.7 },
  { x: 0, y: 525, w: 483, h: 524, l: 42.7, r: 470, t: 33.3, b: 472.3, titleY: 20, xTitleY: 513.3 },
  { x: 483, y: 525, w: 483, h: 524, l: 46.7, r: 473.3, t: 33.3, b: 472.3, titleY: 20, xTitleY: 513.3 },
];
const FONT = '"Liberation Sans", Arial, Helvetica, sans-serif';
const LINE_COLOR = 'rgba(158,158,158,0.68)';
const GRID_COLOR = '#e3e3e3';
const AXIS_COLOR = '#333333';
const TEXT_COLOR = '#262626';

const decoPlugin = {
  id: 'panelDeco',
  afterDatasetsDraw(chart: any, _args: any, opts: any) {
    const { ctx, chartArea: a, scales } = chart;
    const k = opts.k;
    const f = opts.frame;
    ctx.save();
    ctx.strokeStyle = AXIS_COLOR;
    ctx.lineWidth = 1;
    ctx.beginPath();
    ctx.moveTo(a.left, a.top + 0.5);
    ctx.lineTo(a.right, a.top + 0.5);
    ctx.moveTo(a.left, a.bottom);
    ctx.lineTo(a.right, a.bottom);
    ctx.stroke();
    ctx.lineWidth = 1 / k;
    ctx.beginPath();
    ctx.moveTo(a.left, a.top);
    ctx.lineTo(a.left, a.bottom);
    ctx.moveTo(a.right, a.top);
    ctx.lineTo(a.right, a.bottom);
    const TL = 5;
    scales.x.ticks.forEach((t: any) => {
      const px = scales.x.getPixelForValue(t.value);
      ctx.moveTo(px, a.bottom);
      ctx.lineTo(px, a.bottom - TL);
      ctx.moveTo(px, a.top);
      ctx.lineTo(px, a.top + TL);
    });
    ctx.stroke();
    ctx.lineWidth = 1;
    ctx.beginPath();
    scales.y.ticks.forEach((t: any) => {
      const py = Math.round(scales.y.getPixelForValue(t.value)) + 0.5;
      ctx.moveTo(a.left, py);
      ctx.lineTo(a.left + TL / k, py);
      ctx.moveTo(a.right, py);
      ctx.lineTo(a.right - TL / k, py);
    });
    ctx.stroke();

    ctx.fillStyle = '#000';
    ctx.textAlign = 'center';
    ctx.textBaseline = 'middle';
    ctx.font = `bold 15px ${FONT}`;
    ctx.fillText(opts.title, (a.left + a.right) / 2 - 5 / k, f.titleY);
    ctx.fillStyle = TEXT_COLOR;
    ctx.textAlign = 'left';
    ctx.font = `14px ${FONT}`;
    ctx.fillText(opts.note, a.left + 34 / k, scales.y.getPixelForValue(25) + 1);
    ctx.textAlign = 'center';
    ctx.font = `16px ${FONT}`;
    ctx.fillText(X_TITLE, (a.left + a.right) / 2 - 12.5 / k, f.xTitleY);
    ctx.translate(a.left - 26 / k, (a.top + a.bottom) / 2 + 8);
    ctx.rotate(-Math.PI / 2);
    ctx.font = `bold 17px ${FONT}`;
    ctx.fillText(Y_TITLE, 0, 0);
    ctx.restore();
  },
};

function Panel({ idx }: { idx: number }) {
  const ref = useRef<HTMLCanvasElement>(null);
  const f = FRAMES[idx];
  const cw = Math.round(f.w / SX);
  const k = f.w / cw;

  useEffect(() => {
    if (!ref.current) return;
    const series = PANEL_SERIES[idx];
    const chart = new Chart(ref.current, {
      type: 'line',
      data: {
        datasets: series.map(([start, vals]) => ({
          data: vals.map((v, i) => ({ x: start + i, y: v })),
          borderColor: LINE_COLOR,
          borderWidth: 1.6,
          pointRadius: 0,
          tension: 0,
          fill: false,
        })),
      },
      options: {
        responsive: false,
        animation: false,
        devicePixelRatio: 1,
        events: [],
        layout: { padding: { left: 0, top: f.t, right: cw - f.r / k, bottom: 0 } },
        plugins: {
          legend: { display: false },
          tooltip: { enabled: false },
          title: { display: false },
          panelDeco: { title: PANEL_TITLES[idx], note: PANEL_NOTES[idx], frame: f, k },
        } as any,
        scales: {
          x: {
            type: 'linear',
            min: DAY_MIN,
            max: DAY_MAX,
            afterBuildTicks: (s: any) => {
              s.ticks = X_TICKS.map((v) => ({ value: v }));
            },
            afterFit: (s: any) => {
              s.height = f.h - f.b;
            },
            grid: { color: GRID_COLOR, lineWidth: 1 / k, drawTicks: false },
            border: { display: false },
            ticks: {
              font: { family: FONT, size: 16 },
              color: TEXT_COLOR,
              padding: 7.2,
              maxRotation: 0,
              autoSkip: false,
              callback: (v: any) => String(v),
            },
          },
          y: {
            type: 'linear',
            min: 0,
            max: ANC_MAX,
            afterBuildTicks: (s: any) => {
              s.ticks = Y_TICKS.map((v) => ({ value: v }));
            },
            afterFit: (s: any) => {
              s.width = f.l / k;
            },
            grid: { color: GRID_COLOR, lineWidth: 1, drawTicks: false },
            border: { display: false },
            ticks: {
              font: { family: FONT, size: 16 },
              color: TEXT_COLOR,
              padding: 5.6 / k,
              autoSkip: false,
              callback: (v: any) => String(v),
            },
          },
        },
      } as any,
      plugins: [decoPlugin],
    });
    return () => chart.destroy();
  }, [idx]);

  return (
    <canvas
      ref={ref}
      width={cw}
      height={f.h}
      style={{ position: 'absolute', left: f.x, top: f.y, width: f.w, height: f.h, display: 'block' }}
    />
  );
}

export default function App() {
  return (
    <div
      style={{
        position: 'fixed',
        left: 0,
        top: 0,
        width: 966,
        height: 1049,
        background: '#ffffff',
        overflow: 'hidden',
      }}
    >
      {[0, 1, 2, 3].map((i) => (
        <Panel key={i} idx={i} />
      ))}
      <div
        style={{
          position: 'absolute',
          left: 181,
          top: 180,
          fontFamily: '"Open Sans", sans-serif',
          fontWeight: 700,
          fontSize: 33,
          lineHeight: '45px',
          color: '#E97132',
          whiteSpace: 'nowrap',
        }}
      >
        Huge
        <br />
        variability
      </div>
    </div>
  );
}
